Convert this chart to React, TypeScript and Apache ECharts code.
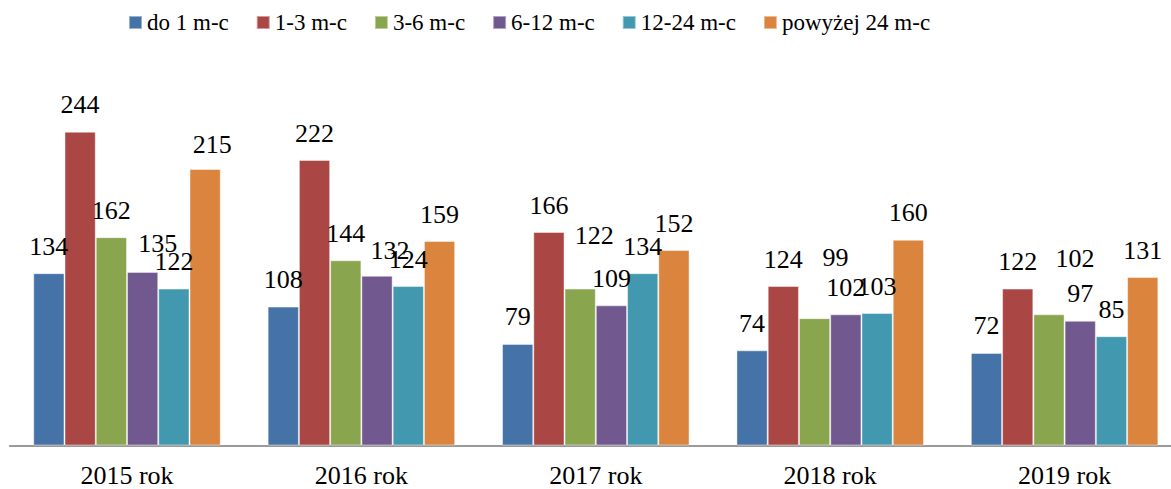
import React, { useEffect, useRef } from "react";
import * as echarts from "echarts";

const categories = ["2015 rok", "2016 rok", "2017 rok", "2018 rok", "2019 rok"];
const seriesNames = ["do 1 m-c", "1-3 m-c", "3-6 m-c", "6-12 m-c", "12-24 m-c", "powyżej 24 m-c"];
const upTo1 = [134, 108, 79, 74, 72];
const m1to3 = [244, 222, 166, 124, 122];
const m3to6 = [162, 144, 122, 99, 102];
const m6to12 = [135, 132, 109, 102, 97];
const m12to24 = [122, 124, 134, 103, 85];
const over24 = [215, 159, 152, 160, 131];
const seriesValues = [upTo1, m1to3, m3to6, m6to12, m12to24, over24];

const colors = ["#4572A7", "#AA4643", "#89A54E", "#71588F", "#4198AF", "#DB843D"];

// manual label nudges: [seriesIndex, categoryIndex, dx, dy]
const labelNudges: number[][] = [
  [3, 0, 15, -1],
  [5, 0, 7, 2],
  [3, 1, 13, 2],
  [2, 2, 14, -26],
  [2, 3, 21, -34],
  [2, 4, 26, -29],
];

const FONT = "Liberation Serif, Times New Roman, serif";

export default function App() {
  const ref = useRef<HTMLDivElement>(null);
  useEffect(() => {
    if (!ref.current) return;
    const chart = echarts.init(ref.current, undefined, { renderer: "svg" });
    const series = seriesValues.map((vals, si) => ({
      name: seriesNames[si],
      type: "bar",
      barGap: "0%",
      barCategoryGap: "20%",
      itemStyle: { color: colors[si], borderColor: "rgba(255,255,255,0.45)", borderWidth: 1 },
      label: {
        show: true,
        position: "top",
        distance: 14,
        color: "#000",
        fontFamily: FONT,
        fontSize: 26,
      },
      data: vals.map((v, ci) => {
        const n = labelNudges.find((x) => x[0] === si && x[1] === ci);
        return n ? { value: v, label: { offset: [n[2], n[3]] } } : v;
      }),
    }));
    chart.setOption({
      animation: false,
      color: colors,
      textStyle: { fontFamily: FONT },
      legend: {
        left: 128,
        top: 11,
        padding: 0,
        itemWidth: 13,
        itemHeight: 13,
        itemGap: 27,
        icon: "rect",
        textStyle: { fontFamily: FONT, fontSize: 23, color: "#000" },
        data: seriesNames,
      },
      grid: {
        left: 9.8,
        right: -10.8,
        top: 59.7,
        bottom: 43.5,
        containLabel: false,
        outerBoundsMode: "none",
      },
      xAxis: {
        type: "category",
        data: categories,
        axisTick: { show: false },
        axisLine: { lineStyle: { color: "#9a9a9a", width: 2 } },
        axisLabel: { color: "#000", fontFamily: FONT, fontSize: 26, margin: 17 },
      },
      yAxis: {
        type: "value",
        min: 0,
        max: 300,
        show: false,
        splitLine: { show: false },
      },
      series,
    });
    return () => chart.dispose();
  }, []);
  return (
    <div
      ref={ref}
      style={{ position: "fixed", left: 0, top: 0, width: 1171, height: 489, background: "#fff" }}
    />
  );
}
